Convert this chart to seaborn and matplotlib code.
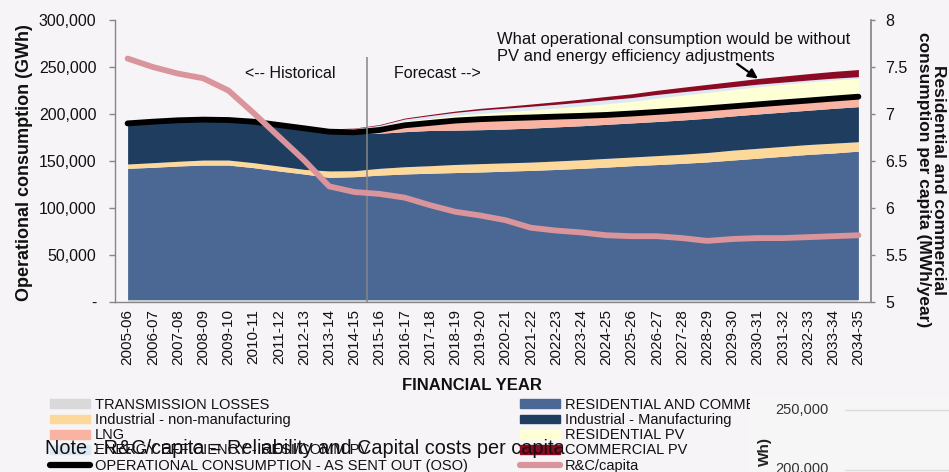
import numpy as np
import matplotlib
matplotlib.use("Agg")
import matplotlib.pyplot as plt
from matplotlib.patches import Patch, Rectangle
from matplotlib.lines import Line2D
from matplotlib import font_manager
import seaborn as sns

sns.set_theme(style="white")
plt.rcParams["font.family"] = ["Liberation Sans", "DejaVu Sans"]

installed = {f.name for f in font_manager.fontManager.ttflist}
NARROW = "Liberation Sans Narrow" if "Liberation Sans Narrow" in installed else "Liberation Sans"

# ---- data (GWh) ----
years = ["2005-06", "2006-07", "2007-08", "2008-09", "2009-10", "2010-11",
         "2011-12", "2012-13", "2013-14", "2014-15", "2015-16", "2016-17",
         "2017-18", "2018-19", "2019-20", "2020-21", "2021-22", "2022-23",
         "2023-24", "2024-25", "2025-26", "2026-27", "2027-28", "2028-29",
         "2029-30", "2030-31", "2031-32", "2032-33", "2033-34", "2034-35"]

trans_losses = [2500] * 30
res_comm = [139700, 140800, 142200, 143200, 143200, 140400, 136900, 133700, 130100, 130800,
            132500, 133700, 134500, 135200, 135800, 136700, 137500, 138500, 139700, 141000,
            142500, 143700, 145000, 146500, 148500, 150500, 152500, 154500, 156000, 158000]
ind_nonman = [4600, 4900, 5000, 5300, 5300, 5300, 5300, 4900, 6800, 6400,
              7200, 7700, 8000, 8600, 8900, 8800, 8800, 9000, 9100, 9300,
              9200, 9500, 9700, 10000, 10500, 10500, 10500, 10500, 10500, 10000]
ind_man = [43200, 43600, 43600, 43000, 42600, 43600, 43600, 43700, 41800, 40800,
           37300, 37300, 37500, 36500, 36100, 36000, 36200, 36300, 36200, 36200,
           36300, 36300, 36400, 36500, 36400, 36500, 36500, 36500, 37000, 37300]
lng = [0, 0, 0, 0, 0, 0, 0, 0, 0, 0,
       3500, 6800, 8000, 10200, 11200, 11500, 11300, 10900, 10500, 10000,
       10000, 10200, 10400, 10500, 10200, 10200, 10300, 10300, 10400, 10600]
res_pv = [0, 0, 0, 100, 300, 800, 1500, 2200, 3000, 3500,
          3500, 4500, 5000, 5500, 6300, 7000, 8000, 9100, 10500, 12000,
          13000, 14800, 16000, 17000, 17900, 18800, 19200, 19700, 19800, 19600]
energy_eff = [0, 0, 0, 0, 0, 0, 0, 0, 0, 500,
              1500, 2200, 2800, 3200, 3500, 3700, 3900, 4000, 4100, 4100,
              4000, 3800, 3600, 3300, 3000, 2700, 2400, 2100, 1900, 1700]
comm_pv = [0, 0, 0, 0, 0, 0, 0, 0, 0, 500,
           800, 1000, 1200, 1400, 1700, 2000, 2400, 2800, 3200, 3600,
           4000, 4400, 4800, 5200, 5600, 6000, 6400, 6800, 7200, 7600]
rc_per_capita = [7.59, 7.50, 7.43, 7.38, 7.25, 7.01, 6.76, 6.51, 6.23, 6.17,
                 6.15, 6.11, 6.03, 5.96, 5.92, 5.87, 5.79, 5.76, 5.74, 5.71,
                 5.70, 5.70, 5.68, 5.65, 5.67, 5.68, 5.68, 5.69, 5.70, 5.71]

# operational consumption (sent out) = sum of the consumption layers
oso = (np.array(trans_losses) + np.array(res_comm) + np.array(ind_nonman)
       + np.array(ind_man) + np.array(lng))

left_ticks = [0, 50000, 100000, 150000, 200000, 250000, 300000]
left_labels = ["-", "50,000", "100,000", "150,000", "200,000", "250,000", "300,000"]
right_ticks = [5, 5.5, 6, 6.5, 7, 7.5, 8]
right_labels = ["5", "5.5", "6", "6.5", "7", "7.5", "8"]

colors = {
    "tl": "#d9d9d9", "rc": "#4a6893", "inm": "#fdd89b", "im": "#1f3d5f",
    "lng": "#f8b3a3", "rpv": "#ffffd5", "ee": "#dde8f4", "cpv": "#8c0a23",
    "oso": "#000000", "cap": "#d9959b",
}
bg = "#f6f4f6"
grey = "#868686"

W, H = 949, 472
def fx(px): return px / W
def fy(py): return 1 - py / H

fig = plt.figure(figsize=(W / 100, H / 100), dpi=100, facecolor=bg)
ax = fig.add_axes([fx(115), fy(302), (871 - 115) / W, (302 - 20) / H])
ax.set_facecolor(bg)

x = np.arange(len(years))
ax.stackplot(x, trans_losses, res_comm, ind_nonman, ind_man, lng, res_pv, energy_eff, comm_pv,
             colors=[colors[k] for k in ["tl", "rc", "inm", "im", "lng", "rpv", "ee", "cpv"]],
             linewidth=0, zorder=2)
sns.lineplot(x=x, y=oso, ax=ax, color=colors["oso"], linewidth=4.2,
             solid_capstyle="round", solid_joinstyle="round", zorder=5, legend=False)
ax.vlines(9.5, 0, 261000, color=grey, linewidth=1.1, zorder=6)

ax.set_xlim(-0.5, 29.5)
ax.set_ylim(0, 300000)
ax.set_yticks(left_ticks)
ax.set_yticklabels(left_labels)
ax.set_xticks(x)
ax.set_xticklabels(years, rotation=90)
ax.set_xticks(np.arange(-0.5, 30, 1), minor=True)
ax.tick_params(axis="x", which="major", length=0, pad=5, labelsize=11, colors="#111111")
ax.tick_params(axis="x", which="minor", length=4, width=1, color=grey, direction="out")
ax.tick_params(axis="y", which="major", length=4, width=1, color=grey, direction="out",
               pad=9.5, labelsize=11.5, labelcolor="#111111", left=True)
for s in ["top", "right"]:
    ax.spines[s].set_visible(False)
for s in ["left", "bottom"]:
    ax.spines[s].set_color(grey)
    ax.spines[s].set_linewidth(1)
ax.set_xlabel("")
ax.set_ylabel("")

ax2 = ax.twinx()
sns.lineplot(x=x, y=rc_per_capita, ax=ax2, color=colors["cap"], linewidth=4.2,
             solid_capstyle="round", solid_joinstyle="round", legend=False)
ax2.set_ylim(5, 8)
ax2.set_xlim(-0.5, 29.5)
ax2.set_yticks(right_ticks)
ax2.set_yticklabels(right_labels)
ax2.tick_params(axis="y", length=3, width=1, color=grey, direction="out", pad=7,
                labelsize=11.5, labelcolor="#111111", right=True)
for s in ["top", "left", "bottom"]:
    ax2.spines[s].set_visible(False)
ax2.spines["right"].set_color(grey)
ax2.set_ylabel("")
ax2.grid(False)
ax.grid(False)

# axis titles
fig.text(fx(25), fy(163), "Operational consumption (GWh)", rotation=90, ha="center",
         va="center", fontsize=13, fontweight="bold", color="#111111")
fig.text(fx(931), fy(180), "Residential and commercial\nconsumption per capita (MWh/year)",
         rotation=270, ha="center", va="center", multialignment="center", fontsize=12.5,
         fontweight="bold", color="#111111", linespacing=1.0)
fig.text(fx(472), fy(386), "FINANCIAL YEAR", ha="center", va="center", fontsize=12,
         fontweight="bold", color="#111111")

# annotations
fig.text(fx(245), fy(73), "<-- Historical", ha="left", va="center", fontsize=11.5, color="#111111")
fig.text(fx(394), fy(73), "Forecast -->", ha="left", va="center", fontsize=11.5, color="#111111")
fig.text(fx(497), fy(48), "What operational consumption would be without\nPV and energy efficiency adjustments",
         ha="left", va="center", fontsize=11.9, color="#111111", linespacing=1.22)
ax.annotate("", xy=(25.1, 236000), xytext=(24.1, 255000),
            arrowprops=dict(arrowstyle="-|>", color="black", lw=1.6, mutation_scale=14),
            zorder=8)

# legend
fs_leg = 10.5
leg_kw = dict(loc="upper left", frameon=False, fontsize=fs_leg, handlelength=2.75,
              handleheight=0.55, handletextpad=0.35, labelspacing=0.08,
              borderpad=0, borderaxespad=0)
h1 = [Patch(color=colors["tl"]), Patch(color=colors["inm"]), Patch(color=colors["lng"]),
      Patch(color=colors["ee"]), Line2D([], [], color=colors["oso"], lw=4.5)]
l1 = ["TRANSMISSION LOSSES", "Industrial - non-manufacturing", "LNG",
      "ENERGY EFFICIENCY - RESI/COMM PV", "OPERATIONAL CONSUMPTION - AS SENT OUT (OSO)"]
h2 = [Patch(color=colors["rc"]), Patch(color=colors["im"]), Patch(color=colors["rpv"]),
      Patch(color=colors["cpv"]), Line2D([], [], color=colors["cap"], lw=4.5)]
l2 = ["RESIDENTIAL AND COMMERCIAL", "Industrial - Manufacturing", "RESIDENTIAL PV",
      "COMMERCIAL PV", "R&C/capita"]
leg1 = fig.legend(h1, l1, bbox_to_anchor=(fx(50), fy(398)), **leg_kw)
leg2 = fig.legend(h2, l2, bbox_to_anchor=(fx(520), fy(398)), **leg_kw)
for lg in (leg1, leg2):
    lg.set_zorder(5)
    for t in lg.get_texts():
        t.set_color("#111111")

# overlapping piece of the neighbouring chart in the bottom-right corner
fig.patches.append(Rectangle((fx(750), 0), 1 - fx(750), fy(396), transform=fig.transFigure,
                             facecolor="#f7f6f7", edgecolor="none", zorder=6))
fig.text(fx(829), fy(410), "250,000", ha="right", va="center", fontsize=10.5,
         color="#333333", zorder=7)
fig.text(fx(829), fy(469), "200,000", ha="right", va="center", fontsize=10.5,
         color="#333333", zorder=7)
fig.lines.append(Line2D([fx(845), 1], [fy(410), fy(410)], transform=fig.transFigure,
                        color="#dcdcdc", lw=1, zorder=7))
fig.lines.append(Line2D([fx(845), 1], [fy(470), fy(470)], transform=fig.transFigure,
                        color="#dcdcdc", lw=1, zorder=7))
fig.text(fx(765), fy(452), "Wh)", rotation=90, ha="center", va="center", fontsize=11,
         fontweight="bold", color="#222222", zorder=7)

note = fig.text(fx(45), fy(448), "Note : R&C/capita = Reliability and Capital costs per capita",
                ha="left", va="center", fontsize=14, family=NARROW, color="#111111", zorder=9)
# fit the note to the width it has in the original (about 520 px)
fig.canvas.draw()
w = note.get_window_extent().width
note.set_fontsize(14 * 520 / w)

fig.savefig("out.png", dpi=100, facecolor=bg)
